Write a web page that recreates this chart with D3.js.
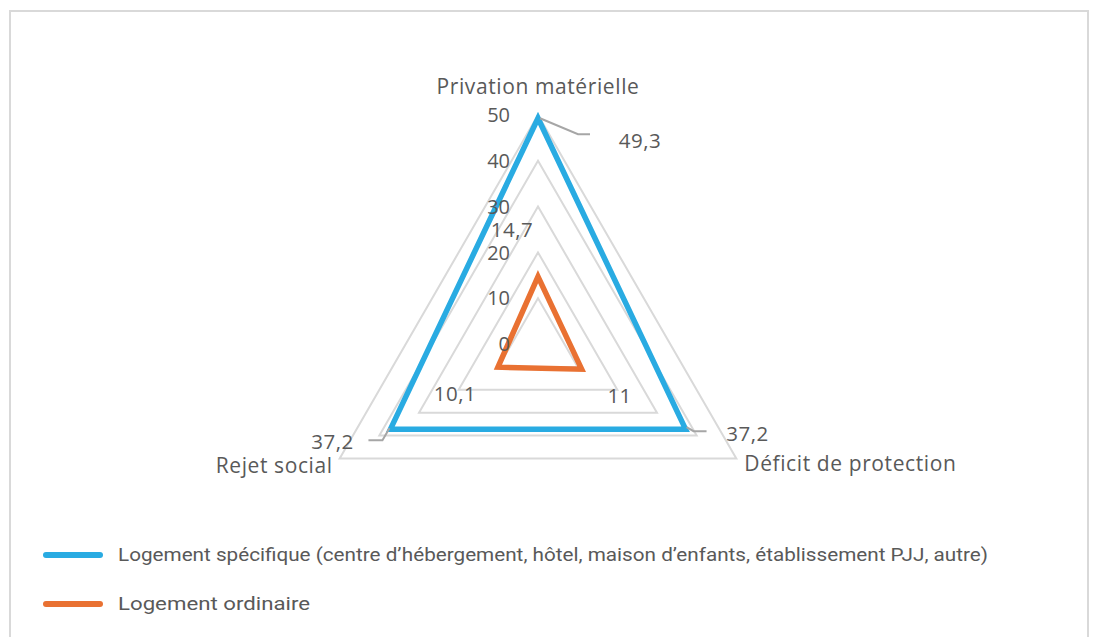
<!DOCTYPE html>
<html>
<head>
<meta charset="utf-8">
<script src="https://cdn.jsdelivr.net/npm/d3@7"></script>
<style>
  html, body { margin: 0; padding: 0; background: #fff; }
  svg { display: block; }
  text { font-family: "Open Sans", "Liberation Sans", Arial, sans-serif; fill: #595959; }
  .legend-text { font-family: Roboto, "Liberation Sans", Arial, sans-serif; }
</style>
</head>
<body>
<svg id="chart" width="1095" height="637"></svg>
<script>
// Axes of the radar, clockwise from the top
const axes = ["Privation matérielle", "Déficit de protection", "Rejet social"];
// Series
const seriesNames = [
  "Logement spécifique (centre d’hébergement, hôtel, maison d’enfants, établissement PJJ, autre)",
  "Logement ordinaire"
];
const specifique = [49.3, 37.2, 37.2];
const ordinaire = [14.7, 11, 10.1];
// Radial tick values
const ticks = [0, 10, 20, 30, 40, 50];

const colors = ["#29abe2", "#e97132"];
const svg = d3.select("#chart");

// frame
svg.append("rect")
  .attr("x", 10).attr("y", 11).attr("width", 1078).attr("height", 640)
  .attr("fill", "none").attr("stroke", "#d9d9d9").attr("stroke-width", 2);

const cx = 538, cy = 344, R = 229;
const r = d3.scaleLinear().domain([0, 50]).range([0, R]);
const angle = i => i * 2 * Math.PI / axes.length;
const pt = (i, v) => [cx + r(v) * Math.sin(angle(i)), cy - r(v) * Math.cos(angle(i))];

const radial = d3.lineRadial()
  .angle((d, i) => angle(i))
  .radius(d => r(d))
  .curve(d3.curveLinearClosed);

const g = svg.append("g").attr("transform", `translate(${cx},${cy})`);

// grid rings
g.selectAll(".ring").data(ticks.slice(1)).join("path")
  .attr("d", t => radial(axes.map(() => t)))
  .attr("fill", "none").attr("stroke", "#d9d9d9").attr("stroke-width", 2)
  .attr("stroke-linejoin", "miter");

// tick labels
svg.selectAll(".tick").data(ticks).join("text")
  .attr("x", cx - 28).attr("y", t => cy - r(t))
  .attr("dy", "0.36em").attr("text-anchor", "end")
  .attr("font-size", 20).text(d => d);

// series polygons
const series = [specifique, ordinaire];
g.selectAll(".series").data(series).join("path")
  .attr("d", d => radial(d))
  .attr("fill", "none")
  .attr("stroke", (d, i) => colors[i])
  .attr("stroke-width", 5.5)
  .attr("stroke-linejoin", "miter");

// category labels
const catPos = [
  { dx: 0, dy: -29, anchor: "middle" },
  { dx: 8, dy: 5, anchor: "start" },
  { dx: -7, dy: 7, anchor: "end" }
];
axes.forEach((a, i) => {
  const [x, y] = pt(i, 50);
  svg.append("text")
    .attr("x", x + catPos[i].dx).attr("y", y + catPos[i].dy)
    .attr("dy", "0.36em").attr("text-anchor", catPos[i].anchor)
    .attr("font-size", 21).attr("letter-spacing", 0.6).text(a);
});

const fmt = v => String(v).replace(".", ",");

// data labels for the outer series, with leader lines
const leaders = [
  { pts: [[2, 0], [40, 16], [52, 16]], tx: 102, ty: 22 },
  { pts: [[1, -2], [8, 2], [21, 2]], tx: 62, ty: 4 },
  { pts: [[-1, -1], [-8, 11], [-22, 11]], tx: -58, ty: 12 }
];
specifique.forEach((v, i) => {
  const [x, y] = pt(i, v);
  const L = leaders[i];
  svg.append("path")
    .attr("d", d3.line()(L.pts.map(p => [x + p[0], y + p[1]])))
    .attr("fill", "none").attr("stroke", "#a6a6a6").attr("stroke-width", 2);
  svg.append("text")
    .attr("x", x + L.tx).attr("y", y + L.ty)
    .attr("dy", "0.36em").attr("text-anchor", "middle")
    .attr("font-size", 20.5).attr("letter-spacing", 0.5).text(fmt(v));
});

// data labels for the inner series
const inner = [{ tx: -26, ty: -47 }, { tx: 38, ty: 26 }, { tx: -43, ty: 26 }];
ordinaire.forEach((v, i) => {
  const [x, y] = pt(i, v);
  svg.append("text")
    .attr("x", x + inner[i].tx).attr("y", y + inner[i].ty)
    .attr("dy", "0.36em").attr("text-anchor", "middle")
    .attr("font-size", 20.5).attr("letter-spacing", 0.5).text(fmt(v));
});

// legend
const legend = svg.append("g");
const legendY = [555, 604];
const legendW = [870, 192];
seriesNames.forEach((n, i) => {
  legend.append("line")
    .attr("x1", 46).attr("x2", 100)
    .attr("y1", legendY[i]).attr("y2", legendY[i])
    .attr("stroke", colors[i]).attr("stroke-width", 6).attr("stroke-linecap", "round");
  legend.append("text")
    .attr("class", "legend-text")
    .attr("x", 118).attr("y", legendY[i])
    .attr("dy", "0.36em").attr("font-size", 17.5)
    .attr("textLength", legendW[i]).attr("lengthAdjust", "spacingAndGlyphs")
    .text(n);
});
</script>
</body>
</html>
